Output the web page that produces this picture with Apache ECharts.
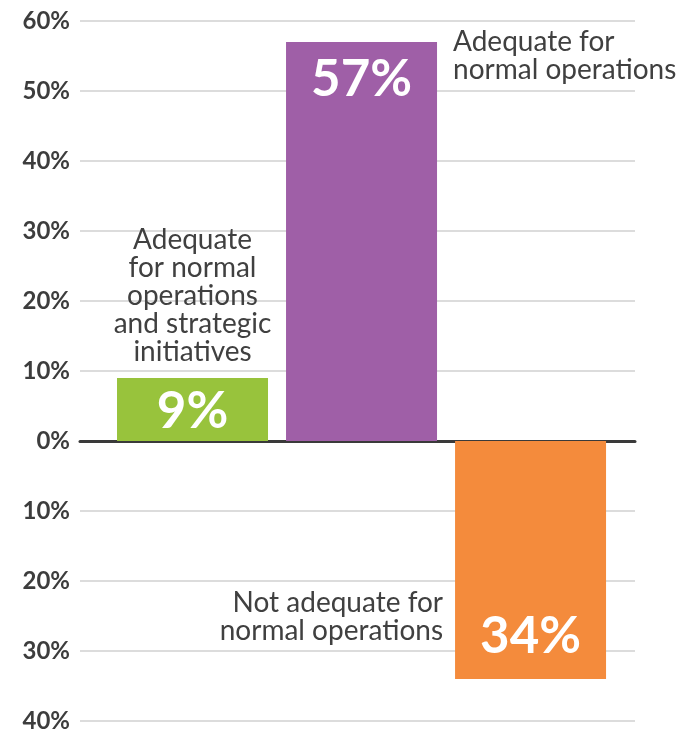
<!DOCTYPE html>
<html>
<head>
<meta charset="utf-8">
<script src="https://cdn.jsdelivr.net/npm/echarts@6/dist/echarts.min.js"></script>
<style>
html,body{margin:0;padding:0;background:#fff;}
#chart{width:680px;height:733px;}
</style>
</head>
<body>
<div id="chart"></div>
<script>
// Data
const categories = [
  'Adequate\nfor normal\noperations\nand strategic\ninitiatives',
  'Adequate for\nnormal operations',
  'Not adequate for\nnormal operations'
];
const slots = [1, 2, 3];
const values = [9, 57, -34];
const colors = ['#98c33c', '#9f5fa7', '#f48b3c'];
const yTicks = { min: -40, max: 60, step: 10 };

const FONT = 'Lato';
const chart = echarts.init(document.getElementById('chart'));

const valueLabelPos = [
  { position: 'inside', offset: [0, 2] },
  { position: 'insideTop', distance: 12 },
  { position: 'inside', offset: [0, 77] }
];
const catLabelPos = [
  { position: 'top', distance: 12, align: 'center' },
  { position: ['100%', 0], offset: [16, -14], align: 'left', verticalAlign: 'top' },
  { position: 'left', distance: 12, offset: [0, 57], align: 'right', verticalAlign: 'middle' }
];

const valueData = values.map((v, i) => ({
  value: [slots[i], v],
  itemStyle: { color: colors[i] },
  label: Object.assign({
    show: true,
    formatter: Math.abs(v) + '%',
    color: '#ffffff',
    fontFamily: FONT,
    fontWeight: 'bold',
    fontSize: 51
  }, valueLabelPos[i])
}));

const catData = values.map((v, i) => ({
  value: [slots[i], v],
  itemStyle: { color: 'rgba(0,0,0,0)' },
  label: Object.assign({
    show: true,
    formatter: categories[i],
    color: '#404040',
    fontFamily: FONT,
    fontSize: 28,
    lineHeight: 28
  }, catLabelPos[i])
}));

chart.setOption({
  animation: false,
  backgroundColor: '#ffffff',
  grid: { left: 80, right: 45, top: 21, bottom: 12, containLabel: false },
  xAxis: {
    type: 'value',
    min: 0.3343,
    max: 3.618,
    axisLine: { show: true, onZero: true, lineStyle: { color: '#3a3a3a', width: 3 } },
    axisTick: { show: false },
    axisLabel: { show: false },
    splitLine: { show: false }
  },
  yAxis: {
    type: 'value',
    min: yTicks.min,
    max: yTicks.max,
    interval: yTicks.step,
    axisLine: { show: false },
    axisTick: { show: false },
    axisLabel: {
      formatter: v => Math.abs(v) + '%',
      color: '#3d3d3d',
      fontFamily: FONT,
      fontWeight: 'bold',
      fontSize: 24,
      margin: 10
    },
    splitLine: { show: true, lineStyle: { color: '#d0d0d0', width: 1.5 } }
  },
  series: [
    {
      type: 'bar',
      barWidth: 151,
      data: valueData,
      z: 2
    },
    {
      type: 'bar',
      barWidth: 151,
      barGap: '-100%',
      data: catData,
      z: 3
    }
  ]
});
</script>
</body>
</html>
